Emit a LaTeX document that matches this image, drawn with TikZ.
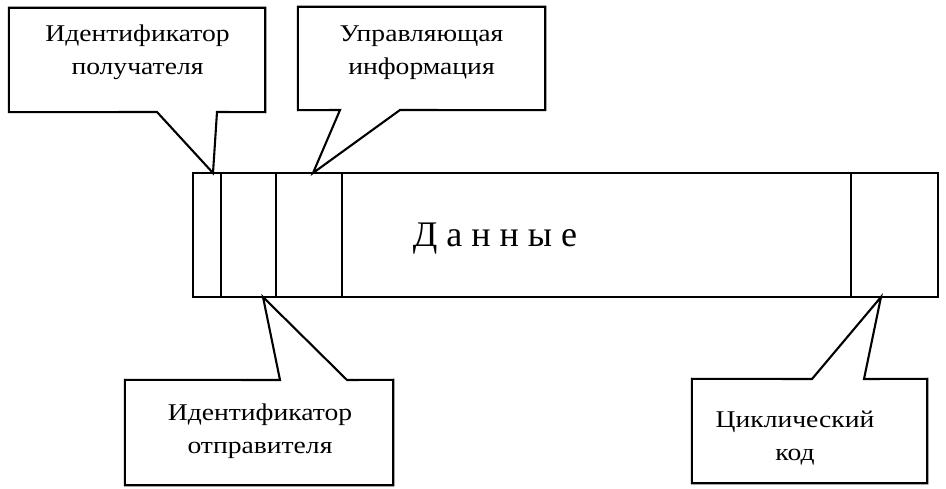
\documentclass[tikz,border=0pt]{standalone}
\usepackage{fontspec}
\setmainfont{Liberation Serif}
\newfontfamily\lblfont[FakeStretch=1.15]{Liberation Serif}
\begin{document}
\begin{tikzpicture}[x=1pt,y=-1pt,line join=miter,
  field/.style={draw, rectangle, inner sep=0pt, line width=2.1pt, minimum height=124pt},
  box/.style={rectangle, inner sep=0pt},
  lbl/.style={font=\lblfont\fontsize{24}{33}\selectfont, align=center, inner sep=0pt},
  callout/.style={draw, line width=2.1pt, fill=white}]
\useasboundingbox (0,0) rectangle (946,489);
% frame fields
\node[field, minimum width=28pt]  (f1)   at (207,235) {};
\node[field, minimum width=55pt]  (f2)   at (248.5,235) {};
\node[field, minimum width=66pt]  (f3)   at (309,235) {};
\node[field, minimum width=509pt] (data) at (596.5,235) {};
\node[field, minimum width=87pt]  (crc)  at (894.5,235) {};
\node[font=\fontsize{36}{40}\selectfont, inner sep=0pt] (dl) at (495,239) {Д а н н ы е};
% pointer tips
\coordinate (t1) at (213,173);
\coordinate (t2) at (313,173);
\coordinate (t3) at (263,297);
\coordinate (t4) at (881,297);
% callout boxes
\node[box, minimum width=256pt, minimum height=104pt] (c1) at (137,60) {};
\node[box, minimum width=247pt, minimum height=103pt] (c2) at (421.5,58.5) {};
\node[box, minimum width=268pt, minimum height=105pt] (c3) at (259,432.5) {};
\node[box, minimum width=235pt, minimum height=104pt] (c4) at (809.5,431) {};
\coordinate (c1a) at (157,112); \coordinate (c1b) at (217,112);
\coordinate (c2a) at (340,110); \coordinate (c2b) at (400,110);
\coordinate (c3a) at (280,380); \coordinate (c3b) at (347,380);
\coordinate (c4a) at (812,379); \coordinate (c4b) at (864,379);
\draw[callout] (c1.north west) -- (c1.north east) -- (c1.south east) -- (c1b) -- (t1) -- (c1a) -- (c1.south west) -- cycle;
\draw[callout] (c2.north west) -- (c2.north east) -- (c2.south east) -- (c2b) -- (t2) -- (c2a) -- (c2.south west) -- cycle;
\draw[callout] (c3.south west) -- (c3.north west) -- (c3a) -- (t3) -- (c3b) -- (c3.north east) -- (c3.south east) -- cycle;
\draw[callout] (c4.south west) -- (c4.north west) -- (c4a) -- (t4) -- (c4b) -- (c4.north east) -- (c4.south east) -- cycle;
% labels
\node[lbl] (l1) at (137.5,52) {Идентификатор\\получателя};
\node[lbl] (l2) at (421.5,53) {Управляющая\\информация};
\node[lbl] (l3) at (260,431) {Идентификатор\\отправителя};
\node[lbl] (l4) at (795,438) {Циклический\\код};
\end{tikzpicture}
\end{document}
